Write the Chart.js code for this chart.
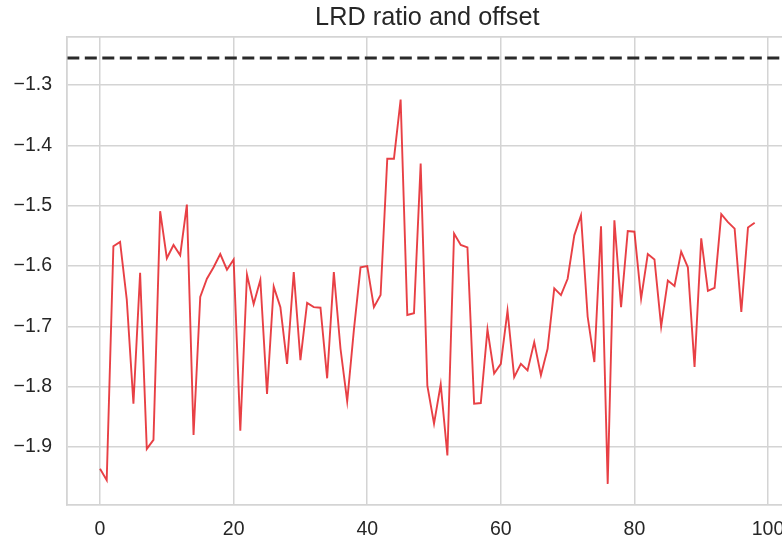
<!DOCTYPE html>
<html>
<head>
<meta charset="utf-8">
<script src="https://cdn.jsdelivr.net/npm/chart.js@4/dist/chart.umd.min.js"></script>
<style>
  html, body { margin: 0; padding: 0; background: #fff; overflow: hidden; }
  #wrap { width: 790px; height: 542px; }
</style>
</head>
<body>
<div id="wrap"><canvas id="lrdChart" width="790" height="542"></canvas></div>
<script>
// ===============================
// Data
// ===============================
const ratioValues = [
  -1.936, -1.955, -1.567, -1.560, -1.655, -1.828, -1.611, -1.903, -1.888, -1.509,
  -1.587, -1.565, -1.582, -1.498, -1.880, -1.651, -1.621, -1.602, -1.580, -1.606,
  -1.589, -1.873, -1.614, -1.663, -1.623, -1.812, -1.634, -1.668, -1.762, -1.610,
  -1.756, -1.661, -1.668, -1.669, -1.786, -1.610, -1.737, -1.824, -1.706, -1.602,
  -1.600, -1.668, -1.648, -1.422, -1.422, -1.324, -1.681, -1.678, -1.430, -1.798,
  -1.861, -1.796, -1.914, -1.546, -1.565, -1.569, -1.828, -1.827, -1.705, -1.778,
  -1.762, -1.674, -1.784, -1.762, -1.773, -1.726, -1.781, -1.737, -1.637, -1.648,
  -1.621, -1.549, -1.516, -1.684, -1.759, -1.534, -1.961, -1.524, -1.668, -1.542,
  -1.543, -1.654, -1.580, -1.589, -1.700, -1.624, -1.633, -1.576, -1.602, -1.767,
  -1.554, -1.641, -1.636, -1.514, -1.527, -1.538, -1.676, -1.536, -1.528
];
const stepIndex = ratioValues.map((_, i) => i);   // x = 0..98
const offsetLevel = -1.255;                        // dashed reference line

const xTicks = [0, 20, 40, 60, 80, 100];
const yTicks = [-1.9, -1.8, -1.7, -1.6, -1.5, -1.4, -1.3];
const xRange = [-4.9, 102.9];
const yRange = [-1.996, -1.2202];

// ===============================
// Styling helpers
// ===============================
const gridColor = "#d4d4d4";
const textColor = "#262626";
const fontFamily = "'Liberation Sans', Arial, sans-serif";
const fmtMinus = v => v.toFixed(1).replace("-", "\u2212");

// top spine (right spine is cropped off the picture)
const frame = {
  id: "frame",
  afterDraw(chart){
    const {ctx, chartArea:a} = chart;
    ctx.save();
    ctx.strokeStyle = gridColor;
    ctx.lineWidth = 1.8;
    ctx.beginPath();
    ctx.moveTo(a.left, a.top);
    ctx.lineTo(a.right, a.top);
    ctx.stroke();
    ctx.restore();
  }
};

// ===============================
// LRD Chart
// ===============================
const ctxLrd = document.getElementById("lrdChart").getContext("2d");
const lrdChart = new Chart(ctxLrd, {
  type: "line",
  data: {
    datasets: [
      {
        data: stepIndex.map((x, i) => ({x: x, y: ratioValues[i]})),
        borderColor: "rgba(228,30,36,0.85)",
        borderWidth: 1.9,
        pointRadius: 0,
        tension: 0,
        fill: false
      },
      {
        data: [{x: xRange[0], y: offsetLevel}, {x: xRange[1], y: offsetLevel}],
        borderColor: "#2a2a2a",
        borderWidth: 3,
        borderDash: [12, 5.5],
        pointRadius: 0,
        fill: false
      }
    ]
  },
  options: {
    responsive: false,
    animation: false,
    layout: {padding: {left: 0, right: 2.6, top: 0, bottom: 0}},
    plugins: {
      legend: {display: false},
      tooltip: {enabled: false},
      title: {
        display: true,
        fullSize: false,
        text: "LRD ratio and offset",
        color: textColor,
        font: {family: fontFamily, size: 25.3, weight: "normal", lineHeight: 1.2},
        padding: {top: 3, bottom: 3.6}
      }
    },
    scales: {
      x: {
        type: "linear",
        min: xRange[0],
        max: xRange[1],
        afterBuildTicks: s => { s.ticks = xTicks.map(v => ({value: v})); },
        afterFit: s => { s.height = 37; s.paddingLeft = 0; s.paddingRight = 0; },
        grid: {color: gridColor, lineWidth: 1.5, drawTicks: false},
        border: {color: gridColor, width: 1.8},
        ticks: {
          color: textColor,
          padding: 13,
          maxRotation: 0,
          font: {family: fontFamily, size: 19.5},
          callback: v => String(v)
        }
      },
      y: {
        type: "linear",
        min: yRange[0],
        max: yRange[1],
        afterBuildTicks: s => { s.ticks = yTicks.map(v => ({value: v})); },
        afterFit: s => { s.width = 67.3; s.paddingTop = 0; s.paddingBottom = 0; },
        grid: {color: gridColor, lineWidth: 1.5, drawTicks: false},
        border: {color: gridColor, width: 1.8},
        ticks: {
          color: textColor,
          padding: 15.3,
          font: {family: fontFamily, size: 19.5},
          callback: v => fmtMinus(v)
        }
      }
    }
  },
  plugins: [frame]
});
</script>
</body>
</html>
